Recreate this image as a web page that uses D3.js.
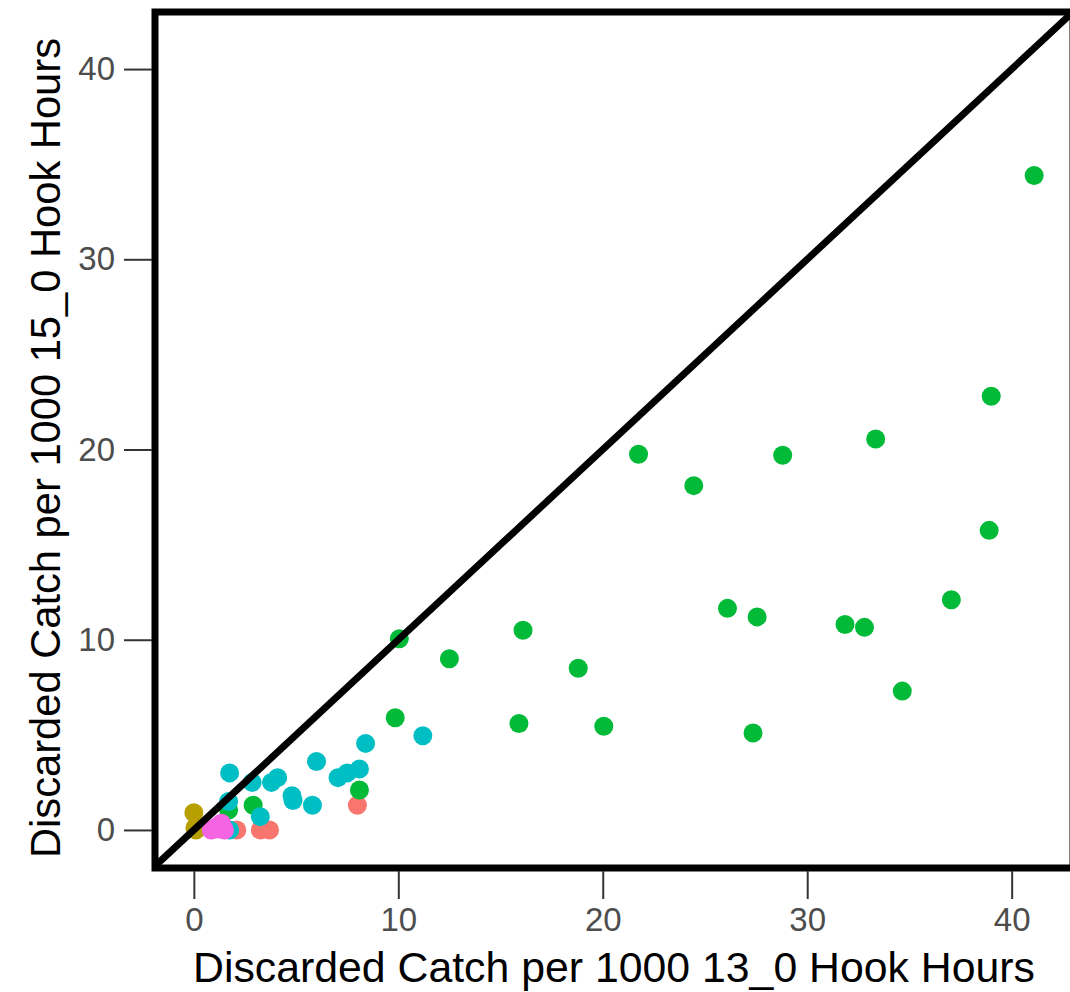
<!DOCTYPE html>
<html>
<head>
<meta charset="utf-8">
<script src="https://cdn.jsdelivr.net/npm/d3@7"></script>
<style>
  body { margin: 0; background: #fff; }
  text { font-family: 'Liberation Sans', Arial, sans-serif; }
</style>
</head>
<body>
<div id="chart"></div>
<script>
// tick values
const xTicks = [0, 10, 20, 30, 40]
const yTicks = [0, 10, 20, 30, 40]

// points per group, [x, y]
const salmonPts = [[2.1, 0.0], [3.25, 0.0], [3.7, 0.0], [8.0, 1.3]]
const olivePts = [[0.0, 0.9], [0.05, 0.1], [0.1, 0.0]]
const greenPts = [
  [41.1, 34.4], [39.0, 22.8], [33.35, 20.55], [21.75, 19.75], [28.8, 19.7],
  [24.45, 18.1], [38.9, 15.75], [37.05, 12.1], [26.1, 11.65], [27.55, 11.2],
  [31.85, 10.8], [32.8, 10.65], [16.1, 10.5], [10.05, 10.05], [12.5, 9.0],
  [18.8, 8.5], [34.65, 7.3], [9.85, 5.9], [15.9, 5.6], [20.05, 5.45],
  [27.35, 5.1], [8.1, 2.1], [2.9, 1.3], [1.7, 1.05]
]
const cyanPts = [
  [1.75, 3.0], [2.85, 2.5], [3.8, 2.5], [4.1, 2.75], [1.7, 1.5], [3.25, 0.7],
  [1.75, 0.0], [4.8, 1.8], [4.85, 1.55], [5.8, 1.3], [6.0, 3.6], [7.05, 2.75],
  [7.5, 3.0], [8.1, 3.2], [8.4, 4.55], [11.2, 4.95]
]
const magentaPts = [[0.85, 0.0], [1.1, 0.15], [1.35, 0.35], [1.2, 0.05], [1.5, 0.0]]

const series = [
  { color: '#F8766D', pts: salmonPts },
  { color: '#B79F00', pts: olivePts },
  { color: '#00BA38', pts: greenPts },
  { color: '#00BFC4', pts: cyanPts },
  { color: '#F564E3', pts: magentaPts }
]

const width = 1070
const height = 992
const panel = { left: 155, right: 1073, top: 12, bottom: 868 }

const x = d3.scaleLinear().domain([-1.9, 43]).range([panel.left, panel.right])
const y = d3.scaleLinear().domain([-2, 43]).range([panel.bottom, panel.top])

const svg = d3.select('#chart').append('svg')
  .attr('width', width)
  .attr('height', height)

svg.append('rect').attr('width', width).attr('height', height).attr('fill', '#fff')

svg.append('clipPath').attr('id', 'clip')
  .append('rect')
  .attr('x', panel.left).attr('y', panel.top)
  .attr('width', panel.right - panel.left).attr('height', panel.bottom - panel.top)

const plot = svg.append('g').attr('clip-path', 'url(#clip)')

// points
series.forEach(s => {
  plot.append('g')
    .selectAll('circle')
    .data(s.pts)
    .enter()
    .append('circle')
    .attr('cx', d => x(d[0]))
    .attr('cy', d => y(d[1]))
    .attr('r', 9.5)
    .attr('fill', s.color)
})

// 1:1 line
plot.append('line')
  .attr('x1', x(-5)).attr('y1', y(-5))
  .attr('x2', x(50)).attr('y2', y(50))
  .attr('stroke', '#000')
  .attr('stroke-width', 7)

// panel border
svg.append('rect')
  .attr('x', panel.left).attr('y', panel.top)
  .attr('width', panel.right - panel.left).attr('height', panel.bottom - panel.top)
  .attr('fill', 'none')
  .attr('stroke', '#000')
  .attr('stroke-width', 7)

// axes
const xAxis = svg.append('g')
  .attr('transform', `translate(0,${panel.bottom + 3})`)
  .call(d3.axisBottom(x).tickValues(xTicks).tickSize(28).tickPadding(9).tickFormat(d3.format('d')))
const yAxis = svg.append('g')
  .attr('transform', `translate(${panel.left - 3},0)`)
  .call(d3.axisLeft(y).tickValues(yTicks).tickSize(28).tickPadding(9).tickFormat(d3.format('d')))

;[xAxis, yAxis].forEach(a => {
  a.select('.domain').remove()
  a.selectAll('.tick line').attr('stroke', '#333').attr('stroke-width', 2)
  a.selectAll('.tick text')
    .attr('fill', '#4D4D4D')
    .style('font-size', '33px')
    .style('font-family', "'Liberation Sans', Arial, sans-serif")
})

// titles
svg.append('text')
  .attr('x', 614)
  .attr('y', 982)
  .attr('text-anchor', 'middle')
  .attr('textLength', 842)
  .attr('lengthAdjust', 'spacingAndGlyphs')
  .style('font-size', '43px')
  .attr('fill', '#000')
  .text('Discarded Catch per 1000 13_0 Hook Hours')

svg.append('text')
  .attr('transform', 'translate(60,448) rotate(-90)')
  .attr('text-anchor', 'middle')
  .attr('textLength', 820)
  .attr('lengthAdjust', 'spacingAndGlyphs')
  .style('font-size', '43px')
  .attr('fill', '#000')
  .text('Discarded Catch per 1000 15_0 Hook Hours')
</script>
</body>
</html>
